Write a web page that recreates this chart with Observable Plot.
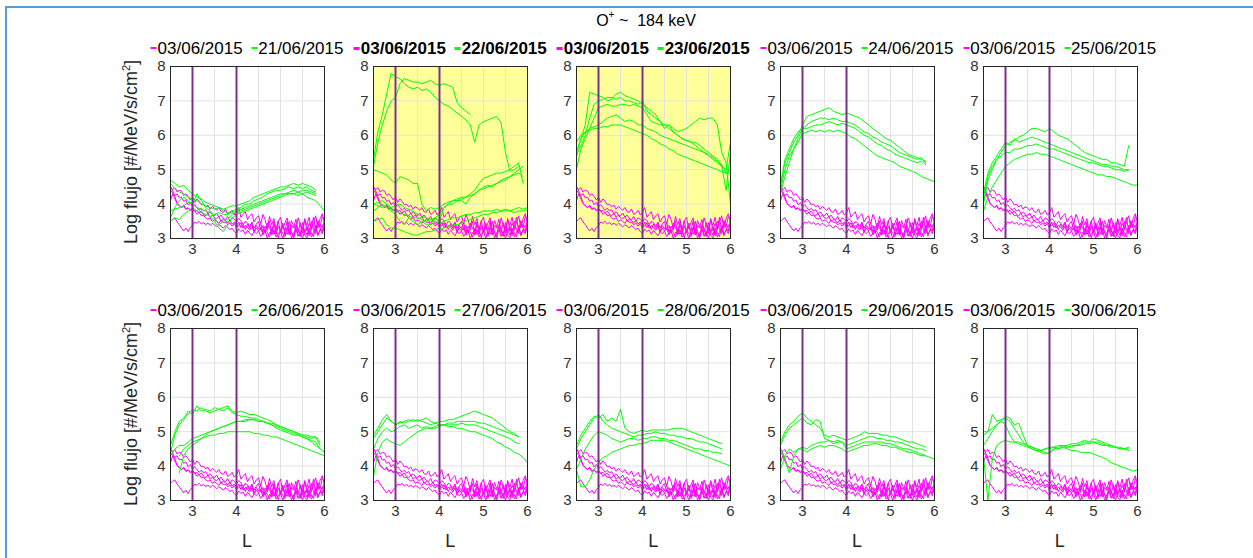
<!DOCTYPE html>
<html><head><meta charset="utf-8">
<script src="https://cdn.jsdelivr.net/npm/d3@7"></script>
<script src="https://cdn.jsdelivr.net/npm/@observablehq/plot@0.6"></script>
<style>
body{margin:0;background:#fff;font-family:"Liberation Sans",Arial,sans-serif;}
#root{position:relative;width:1253px;height:558px;overflow:hidden;background:#fff}
.frameline{position:absolute;left:5px;top:6px;width:1400px;height:700px;border-top:2px solid #5b9bd5;border-left:2px solid #5b9bd5}
.panel{position:absolute}
.legend{position:absolute;transform:translateX(-50%);white-space:nowrap;font-size:17px;line-height:20px;color:#000}
.legend .item{margin:0 2px}
.legend .sym{display:inline-block;width:6px;height:2px;vertical-align:middle;margin-right:1px;position:relative;top:-1px}
.legend.bold{font-weight:bold}
.legend.bold .sym{height:3px}
.title{position:absolute;left:646px;top:20px;transform:translate(-50%,-50%);font-size:16px;white-space:nowrap;color:#000}
.title sup{font-size:10px;position:relative;top:-1px}
.ylab{position:absolute;transform:translate(-50%,-50%) rotate(-90deg);font-size:18px;white-space:nowrap;color:#262626}
.ylab sup{font-size:11px}
.xlab{position:absolute;transform:translate(-50%,-50%);font-size:18px;color:#262626}
</style>
</head><body><div id="root"><div class="frameline"></div></div>
<script>
// ---- L grids ----
const L_green = [2.5,2.6,2.7,2.8,2.9,3.0,3.1,3.2,3.3,3.4,3.5,3.6,3.7,3.8,3.9,4.0,4.1,4.2,4.3,4.4,4.5,4.6,4.7,4.8,4.9,5.0,5.1,5.2,5.3,5.4,5.5,5.6,5.7,5.8,5.9,6.0];
const L_magenta = [2.5,2.55,2.6,2.65,2.7,2.75,2.8,2.85,2.9,2.95,3.0,3.05,3.1,3.15,3.2,3.25,3.3,3.35,3.4,3.45,3.5,3.55,3.6,3.65,3.7,3.75,3.8,3.85,3.9,3.95,4.0,4.05,4.1,4.15,4.2,4.25,4.3,4.35,4.4,4.45,4.5,4.55,4.6,4.65,4.7,4.75,4.8,4.85,4.9,4.95,5.0,5.05,5.1,5.15,5.2,5.25,5.3,5.35,5.4,5.45,5.5,5.55,5.6,5.65,5.7,5.75,5.8,5.85,5.9,5.95,6.0];
const xTicks = [3,4,5,6];
const yTicks = [3,4,5,6,7,8];
const xGrid = [3.5,4.5,5,5.5];
const yGrid = [4,5,6,7];
const markerL = [3,4];

// ---- reference day 03/06/2015 (same in every panel) ----
const magenta_03_06 = [
 [4.5,4.42,4.48,4.35,4.4,4.38,4.25,4.3,4.22,4.12,4.2, 4.05,4.15,4.08,3.98,4.0,3.92,3.97,3.85,3.93,3.88, 3.82,3.9,3.78,3.76,3.86,3.7,3.74,3.82,3.68,3.75, 3.9,3.62,3.7,3.78,3.55,3.66,3.72,3.48,3.6,3.66, 3.42,3.7,3.55,3.3,3.64,3.4,3.58,3.22,3.5,3.62, 3.28,3.45,3.6,3.2,3.52,3.35,3.25,3.6,3.4,3.15, 3.55,3.38,3.62,3.24,3.48,3.66,3.3,3.58,3.72,3.45],
 [4.4,4.32,4.25,4.3,4.18,4.2,4.08,4.12,3.98,4.05,3.92, 3.98,3.9,3.82,3.88,3.8,3.84,3.72,3.78,3.7,3.66, 3.74,3.62,3.68,3.58,3.55,3.64,3.5,3.6,3.56,3.48, 3.58,3.52,3.4,3.5,3.46,3.35,3.48,3.3,3.42,3.5, 3.25,3.38,3.15,3.45,3.3,3.2,3.48,3.12,3.36,3.22, 3.44,3.1,3.3,3.5,3.18,3.06,3.4,3.28,3.12,3.46, 3.2,3.36,3.08,3.5,3.26,3.14,3.52,3.3,3.2,3.58],
 [4.1,4.3,4.15,4.02,3.95,3.9,3.97,3.86,3.88,3.83,3.86, 3.78,3.82,3.74,3.8,3.7,3.66,3.74,3.62,3.68,3.6, 3.58,3.64,3.5,3.56,3.52,3.45,3.54,3.42,3.48,3.4, 3.36,3.46,3.3,3.38,3.34,3.24,3.36,3.18,3.3,3.22, 3.32,3.1,3.26,3.18,3.04,3.3,3.12,3.22,3.02,3.28, 3.14,3.05,3.32,3.1,3.2,3.0,3.28,3.15,3.06,3.34, 3.1,3.02,3.3,3.16,3.05,3.38,3.12,3.24,3.4,3.2],
 [3.5,3.56,3.6,3.48,3.4,3.3,3.22,3.3,3.2,3.32,3.38, 3.48,3.44,3.5,3.42,3.47,3.4,3.45,3.38,3.44,3.4, 3.34,3.4,3.36,3.3,3.38,3.32,3.26,3.3,3.2,3.15, 3.28,3.2,3.25,3.12,3.24,3.16,3.08,3.2,3.14,3.22, 3.06,3.16,3.24,3.0,3.18,3.1,3.26,3.04,3.14,3.22, 3.0,3.2,3.12,3.3,3.02,3.16,3.28,3.06,3.2,3.0, 3.24,3.1,3.3,3.04,3.18,3.34,3.08,3.26,3.14,3.4],
 [4.5,4.38,4.22,4.02,3.96,3.9,3.94,3.84,3.9,3.8,3.85, 3.82,3.7,3.76,3.66,3.68,3.6,3.56,3.6,3.5,3.54, 3.5,3.44,3.54,3.46,3.48,3.4,3.45,3.36,3.44,3.3, 3.48,3.32,3.4,3.26,3.42,3.3,3.44,3.2,3.38,3.28, 3.46,3.18,3.36,3.24,3.5,3.12,3.4,3.28,3.52,3.16, 3.44,3.22,3.5,3.12,3.38,3.3,3.56,3.18,3.46,3.24, 3.58,3.22,3.44,3.3,3.62,3.2,3.5,3.34,3.64,3.52]
];

// ---- comparison days (green) ----
const green_21_06 = [
 [4.7,4.6,4.5,4.55,4.4,4.3,4.2,4.15,4.05,4.0, 3.95,3.9,3.85,3.9,3.95,3.95,4.0,4.05,4.1,4.2, 4.25,4.3,4.35,4.4,4.45,4.5,4.5,4.55,4.6,4.55, 4.6,4.55,4.5,4.4,null,null],
 [4.6,4.45,4.35,4.3,4.2,4.15,4.1,4.0,3.95,3.9, 3.85,3.9,3.8,3.75,3.8,3.85,3.9,4.0,4.0,4.1, 4.15,4.2,4.3,4.35,4.4,4.4,4.45,4.5,4.45,4.5, 4.45,4.5,4.4,4.35,null,null],
 [3.6,3.9,4.1,4.2,4.1,4.0,3.9,3.85,3.8,3.75, 3.7,3.75,3.7,3.7,3.75,3.8,3.85,3.9,3.95,4.0, 4.05,4.1,4.15,4.2,4.25,4.3,4.3,4.3,4.3,4.25, 4.3,4.2,4.15,4.1,3.95,3.8],
 [3.8,3.85,3.9,3.95,4.05,4.0,4.3,4.1,3.9,3.8, 3.6,3.4,3.5,3.55,3.7,3.75,3.8,3.85,3.9,3.95, 4.0,4.05,4.1,4.15,4.2,4.25,4.3,4.35,4.4,4.35, 4.4,4.4,4.35,4.3,null,null],
 [3.5,3.6,3.55,3.7,3.8,3.9,3.8,3.75,3.7,3.65, 3.5,3.3,3.2,3.4,3.6,3.7,3.75,3.8,3.85,3.9, 3.95,4.0,4.05,4.1,4.15,4.2,4.25,4.3,4.3,4.35, 4.3,4.35,4.3,4.25,null,null]
];
const green_22_06 = [
 [5.3,6.1,6.6,7.2,7.8,7.7,7.65,7.5,7.4,7.35, 7.4,7.3,7.35,7.25,7.1,7.0,6.9,6.85,6.75,6.65, 6.55,6.45,6.3,5.8,6.3,6.4,6.45,6.5,6.55,6.35, 5.5,4.95,5.0,5.1,null,null],
 [5.1,5.8,6.3,6.7,7.0,7.1,7.5,7.65,7.6,7.55, 7.55,7.5,7.55,7.6,7.5,7.45,7.5,7.45,7.4,6.95, 6.8,6.7,6.6,null,null,null,null,null,null,null, null,null,null,null,null,null],
 [5.0,4.95,4.9,4.85,4.7,4.6,4.8,4.75,4.7,4.6, 4.6,4.0,3.8,3.9,3.85,3.9,4.0,4.05,4.1,4.15, 4.2,4.2,4.3,4.4,4.6,4.75,4.8,4.85,4.9,4.9, 4.95,5.0,5.1,5.2,4.6,null],
 [3.8,3.9,4.0,3.9,3.8,3.7,3.5,3.4,3.6,3.5, 3.4,3.5,3.4,3.4,3.6,3.5,3.9,4.0,4.0,4.1, 4.1,4.0,4.2,4.3,4.4,4.5,4.55,4.5,4.6,4.65, 4.7,4.8,4.9,5.0,5.1,null],
 [3.5,3.55,3.6,3.4,3.3,3.3,3.25,3.2,3.15,3.1, 3.1,3.15,3.2,3.2,3.25,3.3,3.3,3.35,3.4,3.4, 3.45,3.5,3.55,3.6,3.65,3.7,3.7,3.75,3.75,3.8, 3.8,3.8,3.75,3.8,3.8,3.85],
 [4.0,4.05,4.1,4.0,3.9,3.95,4.0,3.9,3.85,3.8, 3.7,3.65,3.6,3.55,3.5,3.45,3.5,3.55,3.6,3.6, 3.65,3.7,3.7,3.75,3.75,3.8,3.8,3.8,3.85,3.8, 3.85,3.8,3.85,3.9,3.85,3.9],
 [4.0,3.95,3.9,4.0,3.85,3.8,3.75,3.7,3.65,3.6, 3.6,3.55,3.5,3.55,3.6,3.7,3.9,4.0,4.1,4.1, 4.15,4.2,4.25,4.3,4.4,4.45,4.5,4.55,4.6,4.7, 4.75,4.8,4.85,4.9,4.8,null]
];
const green_23_06 = [
 [5.5,5.9,6.3,7.25,7.2,7.15,7.1,7.0,7.05,7.2, 7.25,7.15,7.1,7.05,7.0,6.9,6.8,6.7,6.6,6.4, 6.3,6.2,6.1,6.0,5.9,5.85,5.8,5.7,5.6,5.5, 5.4,5.3,5.2,5.1,4.4,5.5],
 [5.4,5.7,6.0,6.5,6.9,7.0,7.05,7.1,7.1,7.05, 7.1,7.0,7.0,6.95,6.9,7.0,6.7,6.6,6.5,6.4, 6.2,6.3,6.1,6.0,5.9,5.85,5.8,5.8,5.7,5.6, 5.5,5.4,5.3,5.1,5.0,5.8],
 [5.0,5.6,5.9,6.2,6.5,6.8,6.85,6.9,6.85,6.85, 6.9,6.9,6.85,6.9,6.85,6.8,6.6,6.4,6.35,6.3, 6.3,6.3,6.2,6.1,6.15,6.2,6.3,6.4,6.5,6.45, 6.5,6.5,6.3,5.5,5.2,4.0],
 [5.5,5.9,6.1,6.2,6.25,6.3,6.4,6.5,6.55,6.6, 6.5,6.4,6.45,6.4,6.3,6.3,6.2,6.15,6.1,6.0, 5.95,5.9,5.85,5.8,5.75,5.7,5.65,5.6,5.55,5.5, 5.45,5.35,5.25,5.15,4.9,5.0],
 [5.8,6.0,6.1,6.15,6.2,6.2,6.25,6.25,6.3,6.3, 6.3,6.25,6.2,6.15,6.1,6.05,6.0,5.9,5.85,5.75, 5.7,5.6,5.55,5.45,5.4,5.35,5.3,5.25,5.2,5.15, 5.1,5.05,5.0,4.95,4.9,4.9]
];
const green_24_06 = [
 [4.6,5.2,5.5,5.8,6.0,6.3,6.55,6.6,6.65,6.7, 6.75,6.8,6.7,6.65,6.6,6.65,6.6,6.55,6.5,6.4, 6.3,6.2,6.1,6.0,5.9,5.85,5.75,5.65,5.55,5.45, 5.4,5.35,5.3,5.25,null,null],
 [4.4,5.0,5.4,5.6,5.9,6.2,6.3,6.4,6.45,6.5, 6.5,6.45,6.5,6.45,6.4,6.4,6.35,6.3,6.2,6.1, 6.05,5.95,5.9,5.8,5.75,5.7,5.6,5.5,5.45,5.4, 5.35,5.3,5.35,5.2,null,null],
 [4.5,5.3,5.6,5.9,6.1,6.2,6.2,6.25,6.3,6.3, 6.35,6.4,6.35,6.3,6.35,6.3,6.25,6.2,6.1,6.0, 5.95,5.85,5.75,5.7,5.6,5.55,5.45,5.4,5.35,5.3, 5.25,5.2,5.25,5.15,null,null],
 [4.3,4.8,5.2,5.6,5.8,6.05,6.1,6.15,6.1,6.15, 6.1,6.15,6.1,6.15,6.1,6.05,5.95,5.9,5.8,5.7, 5.6,5.5,5.4,5.35,5.3,5.25,5.2,5.1,5.05,5.0, 4.95,4.9,4.8,4.75,4.7,4.65]
];
const green_25_06 = [
 [4.0,4.7,5.0,5.3,5.5,5.7,5.8,5.85,5.95,6.0, 6.1,6.2,6.2,6.15,6.1,6.2,6.1,6.0,5.95,5.9, 5.8,5.7,5.6,5.5,5.45,5.4,5.35,5.3,5.3,5.2, 5.2,5.15,5.1,5.7,null,null],
 [4.3,4.9,5.2,5.4,5.6,5.8,5.7,5.9,5.8,5.85, 5.9,5.95,5.9,5.85,5.8,5.75,5.7,5.65,5.6,5.55, 5.5,5.45,5.4,5.35,5.3,5.25,5.2,5.15,5.15,5.1, 5.1,5.05,5.0,5.0,null,null],
 [4.2,4.8,5.1,5.3,5.4,5.5,5.5,5.6,5.6,5.65, 5.7,5.7,5.75,5.7,5.65,5.6,5.6,5.55,5.5,5.45, 5.4,5.35,5.3,5.25,5.2,5.2,5.15,5.1,5.1,5.05, 5.0,5.0,4.95,5.0,null,null],
 [3.8,4.2,4.5,4.7,4.9,5.1,5.2,5.3,5.35,5.4, 5.45,5.45,5.5,5.45,5.45,5.4,5.35,5.3,5.25,5.2, 5.15,5.1,5.05,5.0,4.95,4.9,4.85,4.85,4.8,4.8, 4.75,4.7,4.65,4.6,4.55,4.55]
];
const green_26_06 = [
 [4.4,4.9,5.2,5.35,5.6,5.5,5.75,5.6,5.65,5.6, 5.7,5.65,5.7,5.75,5.6,5.55,5.6,5.55,5.5,5.5, 5.45,5.4,5.35,5.3,5.2,5.15,5.1,5.05,5.0,4.95, 4.9,4.85,4.8,4.85,4.6,null],
 [4.6,5.0,5.3,5.4,5.5,5.65,5.6,5.7,5.6,5.55, 5.6,5.65,5.6,5.7,5.55,5.5,5.45,5.45,5.4,5.4, 5.35,5.3,5.25,5.2,5.1,5.05,5.0,4.95,4.9,4.9, 4.85,4.8,4.75,4.7,4.5,null],
 [null,null,3.8,4.3,4.5,4.6,4.7,4.8,4.9,5.0, 5.05,5.1,5.15,5.2,5.25,5.3,5.3,5.35,5.35,5.35, 5.3,5.3,5.25,5.2,5.15,5.1,5.05,5.0,4.95,4.9, 4.85,4.8,4.7,4.6,4.5,4.4],
 [null,null,4.3,4.5,4.6,4.7,4.75,4.8,4.85,4.9, 4.9,4.95,4.95,5.0,5.0,5.0,5.0,5.0,5.0,4.95, 4.95,4.9,4.9,4.85,4.85,4.8,4.75,4.7,4.65,4.6, 4.55,4.5,4.45,4.4,4.35,4.3],
 [4.3,4.5,4.6,4.6,4.7,4.8,4.85,4.9,4.95,5.0, 5.05,5.1,5.15,5.2,5.25,5.3,5.3,5.3,5.35,5.35, 5.3,5.3,5.25,5.25,5.2,5.15,5.1,5.05,5.0,4.95, 4.9,4.9,4.85,4.85,4.7,null]
];
const green_27_06 = [
 [4.8,5.0,5.2,5.4,5.3,5.2,5.25,5.3,5.35,5.3, 5.35,5.3,5.25,5.2,5.25,5.3,5.3,5.35,5.35,5.4, 5.45,5.5,5.55,5.6,5.55,5.5,5.45,5.4,5.3,5.2, 5.1,5.0,4.95,4.85,null,null],
 [4.9,5.1,5.35,5.5,5.3,5.2,5.3,5.25,5.3,5.35, 5.3,5.35,5.4,5.3,5.25,5.2,5.2,5.25,5.25,5.3, 5.3,5.3,5.3,5.3,5.25,5.25,5.2,5.15,5.1,5.05, 5.0,4.95,4.9,4.85,null,null],
 [4.5,4.8,5.0,5.1,5.0,5.05,5.15,5.2,5.1,5.15, 5.2,5.1,5.15,5.1,5.1,5.15,5.2,5.2,5.2,5.2, 5.25,5.2,5.2,5.2,5.15,5.1,5.05,5.0,4.95,4.9, 4.85,4.8,4.7,4.65,null,null],
 [3.7,4.4,4.7,4.8,4.7,4.65,4.6,4.7,4.8,4.9, 5.0,5.05,5.1,5.1,5.15,5.2,5.2,5.15,5.15,5.1, 5.1,5.05,5.0,5.0,4.95,4.9,4.85,4.8,4.7,4.65, 4.55,4.5,4.4,4.35,4.25,4.1]
];
const green_28_06 = [
 [4.6,4.9,5.1,5.3,5.45,5.4,5.5,5.3,5.4,5.3, 5.65,5.1,5.0,4.95,5.0,5.05,5.0,5.05,5.05,5.05, 5.05,5.05,5.1,5.1,5.1,5.05,5.0,4.95,4.9,4.85, 4.8,4.75,4.7,4.65,null,null],
 [4.5,4.8,5.0,5.2,5.4,5.5,5.3,5.2,5.1,5.05, 5.0,4.95,4.9,4.85,4.9,4.9,4.95,4.95,5.0,4.95, 4.95,4.9,4.9,4.85,4.85,4.8,4.8,4.75,4.7,4.7, 4.65,4.6,4.55,4.5,null,null],
 [3.9,4.2,4.5,4.7,4.9,5.0,4.95,4.9,4.8,4.75, 4.7,4.75,4.8,4.8,4.75,4.8,4.8,4.85,4.85,4.8, 4.8,4.75,4.75,4.7,4.65,4.6,4.55,4.5,4.5,4.45, 4.45,4.4,4.4,4.35,null,null],
 [3.9,3.4,3.4,3.6,3.9,4.1,4.25,4.3,4.4,4.45, 4.5,4.55,4.6,4.6,4.65,4.65,4.7,4.75,4.75,4.75, 4.75,4.7,4.65,4.6,4.55,4.5,4.45,4.4,4.35,4.3, 4.25,4.2,4.15,4.1,4.05,4.0]
];
const green_29_06 = [
 [4.7,5.0,5.2,5.3,5.45,5.55,5.4,5.3,5.2,5.1, 4.9,4.85,4.9,4.85,4.8,4.75,4.8,4.85,4.9,5.0, 4.95,4.95,4.95,4.9,4.9,4.85,4.85,4.8,4.75,4.7, 4.7,4.65,4.6,4.55,null,null],
 [4.6,4.9,5.1,5.2,5.3,5.4,5.25,5.2,5.35,5.3, 4.8,4.75,4.7,4.75,4.7,4.6,4.65,4.7,4.75,4.8, 4.85,4.85,4.8,4.8,4.75,4.75,4.7,4.7,4.65,4.6, 4.55,4.5,4.5,4.45,null,null],
 [3.9,4.3,4.5,4.4,4.5,4.55,4.5,4.6,4.65,4.7, 4.7,4.75,4.65,4.7,4.7,4.5,4.55,4.6,4.65,4.7, 4.7,4.7,4.7,4.7,4.65,4.65,4.6,4.55,4.5,4.5, 4.45,4.4,4.35,4.3,4.25,4.2],
 [4.5,4.2,3.8,4.3,4.5,4.5,4.4,4.5,4.55,4.6, 4.55,4.6,4.6,4.55,4.5,4.4,4.45,4.5,4.55,4.6, 4.6,4.65,4.65,4.6,4.6,4.55,4.55,4.5,4.45,4.4, 4.4,4.35,4.3,4.3,null,null]
];
const green_30_06 = [
 [4.9,5.0,5.5,5.3,5.35,5.4,5.3,5.1,4.9,4.7, 4.6,4.5,4.45,4.4,4.35,4.4,4.5,4.55,4.6,4.55, 4.6,4.6,4.65,4.7,4.7,4.8,4.75,4.7,4.65,4.6, 4.55,4.5,4.5,4.55,null,null],
 [5.0,5.0,5.1,5.2,5.3,5.45,5.4,5.2,5.25,4.9, 4.6,4.55,4.5,4.45,4.5,4.55,4.55,4.6,4.6,4.6, 4.65,4.65,4.7,4.75,4.7,4.7,4.7,4.65,4.6,4.6, 4.55,4.55,4.5,4.45,null,null],
 [4.6,4.8,5.0,5.2,5.3,5.2,4.9,4.7,4.7,4.65, 4.6,4.55,4.5,4.45,4.4,4.35,4.5,4.5,4.55,4.55, 4.55,4.6,4.6,4.65,4.65,4.7,4.65,4.6,4.6,4.55, 4.55,4.5,4.5,4.5,null,null],
 [4.3,3.0,4.2,4.6,4.7,4.75,4.7,4.7,4.65,4.6, 4.55,4.5,4.45,4.45,4.5,4.5,4.55,4.5,4.55,4.5, 4.45,4.45,4.4,4.4,4.4,4.35,4.3,4.25,4.2,4.1, 4.05,4.0,3.95,3.9,3.85,3.9]
];

const refDate = "03/06/2015";
const titleText = "184 keV";
const yLabelText = "Log flujo [#/MeV/s/cm";
const xLabelText = "L";

const panels = [
  {date:"21/06/2015", lines:green_21_06, highlight:false},
  {date:"22/06/2015", lines:green_22_06, highlight:true},
  {date:"23/06/2015", lines:green_23_06, highlight:true},
  {date:"24/06/2015", lines:green_24_06, highlight:false},
  {date:"25/06/2015", lines:green_25_06, highlight:false},
  {date:"26/06/2015", lines:green_26_06, highlight:false},
  {date:"27/06/2015", lines:green_27_06, highlight:false},
  {date:"28/06/2015", lines:green_28_06, highlight:false},
  {date:"29/06/2015", lines:green_29_06, highlight:false},
  {date:"30/06/2015", lines:green_30_06, highlight:false}
];

// ---- layout ----
const root = document.getElementById("root");
const colLeft = [170, 373.3, 576.3, 780, 982.7];
const rowTop = [65.7, 327.7];
const PW = 154, PH = 172;
const ML = 32, MR = 8, MT = 6, MB = 26;
const FONT = "'Liberation Sans', Arial, sans-serif";

const toRows = (lines, grid) => lines.flatMap((ys, k) => ys.map((v, i) => ({L: grid[i], v, k})));
const magRows = toRows(magenta_03_06, L_magenta);

panels.forEach((p, idx) => {
  const col = idx % 5, row = Math.floor(idx / 5);
  const left = colLeft[col], top = rowTop[row];
  const gRows = toRows(p.lines, L_green);
  const svg = Plot.plot({
    width: PW + ML + MR, height: PH + MT + MB,
    marginLeft: ML, marginRight: MR, marginTop: MT, marginBottom: MB,
    style: {background: "transparent", fontFamily: FONT, fontSize: "15px", color: "#333333", overflow: "visible"},
    x: {domain: [2.5, 6], ticks: xTicks, tickFormat: d => String(d), tickSize: 0, tickPadding: 5, label: null},
    y: {domain: [3, 8], ticks: yTicks, tickFormat: d => String(d), tickSize: 0, tickPadding: 5, label: null},
    marks: [
      p.highlight ? Plot.frame({fill: "#ffff99", stroke: null}) : null,
      Plot.ruleX(xGrid, {stroke: "#e2e2e2", strokeWidth: 1}),
      Plot.ruleY(yGrid, {stroke: "#e2e2e2", strokeWidth: 1}),
      Plot.line(magRows, {x: "L", y: "v", z: "k", stroke: "#ff00ff", strokeWidth: 1}),
      Plot.line(gRows, {x: "L", y: "v", z: "k", stroke: "#00ff00", strokeWidth: 1}),
      Plot.ruleX(markerL, {stroke: "#7e2f8e", strokeWidth: 2}),
      Plot.frame({stroke: "#262626", strokeWidth: 1})
    ]
  });
  const wrap = document.createElement("div");
  wrap.className = "panel";
  wrap.style.left = (left - ML) + "px";
  wrap.style.top = (top - MT) + "px";
  wrap.appendChild(svg);
  root.appendChild(wrap);

  // legend
  const lg = document.createElement("div");
  lg.className = "legend" + (p.highlight ? " bold" : "");
  lg.style.left = (left + PW / 2) + "px";
  lg.style.top = (top - 27) + "px";
  lg.innerHTML = `<span class="item"><span class="sym" style="background:#ff00ff"></span>${refDate}</span> <span class="item"><span class="sym" style="background:#00ff00"></span>${p.date}</span>`;
  root.appendChild(lg);

  if (row === 1) {
    const xl = document.createElement("div");
    xl.className = "xlab";
    xl.textContent = xLabelText;
    xl.style.left = (left + PW / 2) + "px";
    xl.style.top = "541px";
    root.appendChild(xl);
  }
  if (col === 0) {
    const yl = document.createElement("div");
    yl.className = "ylab";
    yl.innerHTML = `${yLabelText}<sup>2</sup>]`;
    yl.style.left = "131px";
    yl.style.top = (top + PH / 2) + "px";
    root.appendChild(yl);
  }
});

const t = document.createElement("div");
t.className = "title";
t.innerHTML = `O<sup>+</sup> ~&nbsp; ${titleText}`;
root.appendChild(t);
</script>
</body></html>
